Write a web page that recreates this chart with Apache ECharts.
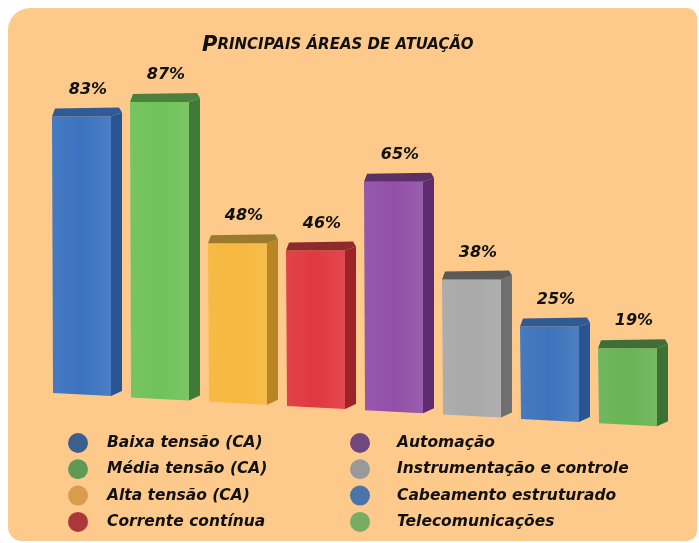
<!DOCTYPE html>
<html>
<head>
<meta charset="utf-8">
<script src="https://cdn.jsdelivr.net/npm/echarts@6/dist/echarts.min.js"></script>
<style>
  html, body { margin: 0; padding: 0; background: #fff; }
  #chart { width: 699px; height: 543px; }
</style>
</head>
<body>
<div id="chart"></div>
<script>
const categories = ['Baixa tensão (CA)', 'Média tensão (CA)', 'Alta tensão (CA)', 'Corrente contínua',
    'Automação', 'Instrumentação e controle', 'Cabeamento estruturado', 'Telecomunicações'];
const values = [83, 87, 48, 46, 65, 38, 25, 19];
const valueLabels = ['83%', '87%', '48%', '46%', '65%', '38%', '25%', '19%'];

// front / side / top face colours for each bar, and the muted legend dots
const frontColors = ['#3c73c0', '#70c25a', '#f6b83e', '#e0393f', '#9250a8', '#a9a9a9', '#3e74bc', '#69b455'];
const sideColors = ['#2a5592', '#3f7b36', '#b98524', '#9e2328', '#5f2c70', '#6f6f6f', '#2b5590', '#3d7134'];
const topColors = ['#2f5b98', '#4b813e', '#9a7a2c', '#8f2a2c', '#5b3066', '#5a5a5a', '#2f5a94', '#3f6f38'];
const legendColors = ['#3b5f8e', '#5f9a54', '#d89c4c', '#aa383a', '#6f4880', '#999999', '#4a75aa', '#77ad63'];

const FONT = '"DejaVu Sans", sans-serif';

function renderBox(params, api) {
    const idx = api.value(0);
    const top = api.coord([idx, api.value(1)]);
    const base = api.coord([idx, 0]);
    const band = api.size([1, 0])[0];
    const x0 = top[0] - band / 2 + 4;
    const w = band - 8;
    const sideW = 11;
    const topH = 9;
    const yTop = top[1];
    const yBot = base[1] + (idx - 3) * 4.3; // perspective: baseline drops to the right
    const xs = x0 + w - sideW;
    return {
        type: 'group',
        children: [
            {
                type: 'polygon',
                shape: { points: [[x0, yTop + topH], [xs, yTop + topH], [xs, yBot + 1], [x0 + 1, yBot - 2]] },
                style: {
                    fill: new echarts.graphic.LinearGradient(0, 0, 1, 0, [
                        { offset: 0, color: echarts.color.lift(frontColors[idx], 0.05) },
                        { offset: 0.5, color: frontColors[idx] },
                        { offset: 1, color: echarts.color.lift(frontColors[idx], 0.08) }
                    ])
                }
            },
            {
                type: 'polygon',
                shape: { points: [[xs, yTop + topH], [x0 + w, yTop + topH - 4], [x0 + w, yBot - 4], [xs, yBot + 1]] },
                style: { fill: sideColors[idx] }
            },
            {
                type: 'polygon',
                shape: { points: [[x0, yTop + topH], [x0 + 3, yTop + 1], [x0 + w - 3, yTop], [x0 + w, yTop + topH - 4], [xs, yTop + topH]] },
                style: { fill: topColors[idx] }
            },
            {
                type: 'text',
                style: {
                    text: valueLabels[idx],
                    x: x0 + w / 2 + 1,
                    y: yTop - 18,
                    align: 'center',
                    verticalAlign: 'middle',
                    font: 'italic bold 16px ' + FONT,
                    fill: '#111'
                }
            }
        ]
    };
}

const series = categories.map((name, i) => ({
    type: 'custom',
    name: name,
    renderItem: renderBox,
    itemStyle: { color: legendColors[i] },
    encode: { x: 0, y: 1 },
    data: [[i, values[i]]],
    silent: true
}));

const legendStyle = {
    orient: 'vertical',
    icon: 'circle',
    itemWidth: 20,
    itemHeight: 20,
    itemGap: 6.3,
    selectedMode: false,
    textStyle: {
        fontFamily: FONT,
        fontSize: 15.5,
        fontStyle: 'italic',
        fontWeight: 'bold',
        color: '#111'
    }
};

const chart = echarts.init(document.getElementById('chart'));
chart.setOption({
    animation: false,
    graphic: [{
        type: 'rect',
        z: -10,
        shape: { x: 8, y: 8, width: 689, height: 533, r: [22, 10, 10, 14] },
        style: { fill: '#fdca8c' }
    }],
    title: {
        text: '{a|P}{b|RINCIPAIS ÁREAS DE ATUAÇÃO}',
        left: 197,
        top: 30,
        textStyle: {
            rich: {
                a: { fontFamily: FONT, fontSize: 21, fontStyle: 'italic', fontWeight: 'bold', color: '#111' },
                b: { fontFamily: FONT, fontSize: 15, fontStyle: 'italic', fontWeight: 'bold', color: '#111' }
            }
        }
    },
    legend: [
        Object.assign({}, legendStyle, {
            left: 63, top: 428,
            textStyle: Object.assign({}, legendStyle.textStyle, { padding: [0, 0, 0, 14] }),
            data: categories.slice(0, 4).map((n, i) => ({ name: n, itemStyle: { color: legendColors[i] } }))
        }),
        Object.assign({}, legendStyle, {
            left: 345, top: 428,
            textStyle: Object.assign({}, legendStyle.textStyle, { padding: [0, 0, 0, 22] }),
            data: categories.slice(4).map((n, i) => ({ name: n, itemStyle: { color: legendColors[i + 4] } }))
        })
    ],
    grid: { left: 48, right: 27, top: 46, bottom: 135 },
    xAxis: { type: 'category', data: categories, show: false },
    yAxis: { type: 'value', min: 0, max: 100, show: false },
    series: series
});
</script>
</body>
</html>
